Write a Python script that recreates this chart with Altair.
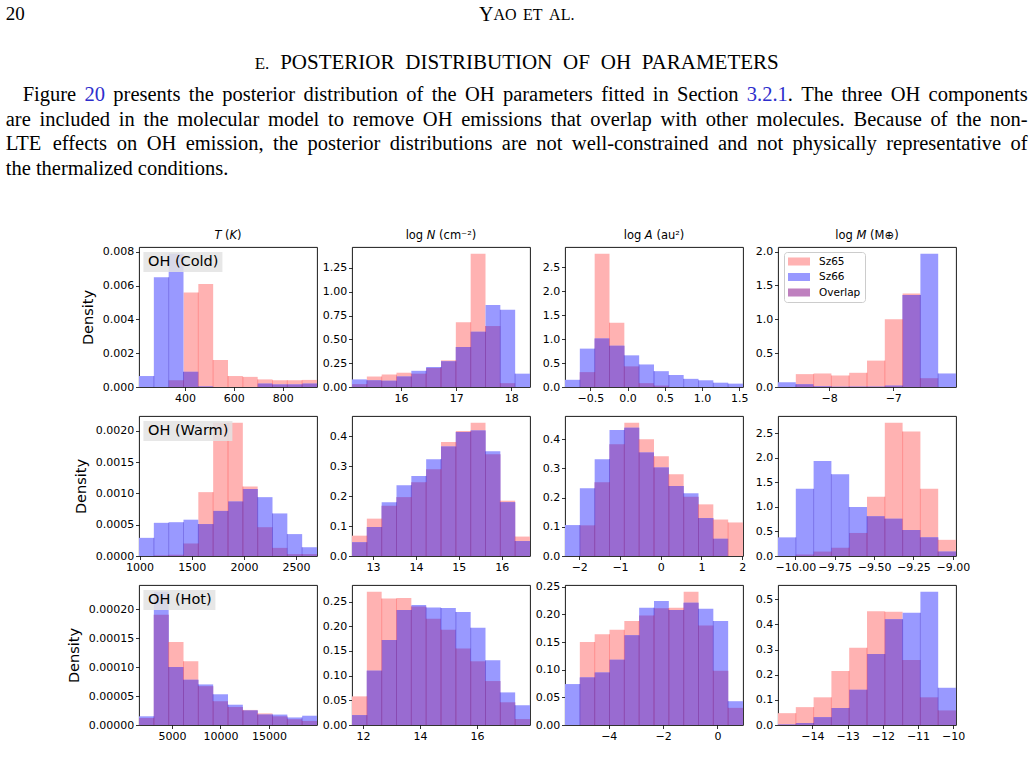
import altair as alt
import pandas as pd

# ---------------- data ----------------
ROW_LABELS = ["OH (Cold)", "OH (Warm)", "OH (Hot)"]
SERIES = ["Sz65", "Sz66", "Overlap"]
SERIES_COLORS = ["#ffb2b2", "#9999ff", "#996bd1"]   # colours of the bars
LEGEND_COLORS = ["#ffb2b2", "#9999ff", "#bf80bf"]   # colours of the legend patches
# column titles as (text, italic) pieces; a lone " " is a space
COL_TITLES = [
    [("T", True), (" ", False), ("(", False), ("K", True), (")", False)],
    [("log", False), (" ", False), ("N", True), (" ", False), ("(cm⁻²)", False)],
    [("log", False), (" ", False), ("A", True), (" ", False), ("(au²)", False)],
    [("log", False), (" ", False), ("M", True), (" ", False), ("(M⊕)", False)],
]

# --- OH (Cold) ---
T_COLD_RANGE = [212, 940]
T_COLD_SZ65 = [0, 0, 0.0004, 0.0056, 0.0061, 0.0016, 0.00065, 0.0006, 0.00045, 0.0004, 0.0004, 0.00042]
T_COLD_SZ66 = [0.00065, 0.0065, 0.0079, 0.0009, 0.00003, 0, 0, 0, 0.0002, 0.00015, 0.00015, 0.0002]
T_COLD_XTICKS = [400, 600, 800]
T_COLD_YTICKS = [0, 0.002, 0.004, 0.006, 0.008]

N_COLD_RANGE = [15.11, 18.34]
N_COLD_SZ65 = [0.03, 0.11, 0.13, 0.15, 0.14, 0.20, 0.28, 0.68, 1.40, 0.64, 0.04, 0.0]
N_COLD_SZ66 = [0.08, 0.07, 0.065, 0.11, 0.17, 0.21, 0.27, 0.42, 0.58, 0.86, 0.81, 0.14]
N_COLD_XTICKS = [16, 17, 18]
N_COLD_YTICKS = [0, 0.25, 0.5, 0.75, 1.0, 1.25]

A_COLD_RANGE = [-0.84, 1.55]
A_COLD_SZ65 = [0, 0.31, 2.78, 1.34, 0.43, 0.08, 0.03, 0, 0, 0, 0, 0]
A_COLD_SZ66 = [0.15, 0.80, 1.01, 0.86, 0.66, 0.47, 0.33, 0.25, 0.17, 0.14, 0.09, 0.07]
A_COLD_XTICKS = [-0.5, 0.0, 0.5, 1.0, 1.5]
A_COLD_YTICKS = [0, 0.5, 1.0, 1.5, 2.0, 2.5]

M_COLD_RANGE = [-8.80, -6.02]
M_COLD_SZ65 = [0, 0.19, 0.20, 0.17, 0.21, 0.39, 1.00, 1.38, 0.13, 0]
M_COLD_SZ66 = [0.07, 0.04, 0.01, 0.005, 0.005, 0.005, 0.02, 1.36, 1.97, 0.20]
M_COLD_XTICKS = [-8, -7]
M_COLD_YTICKS = [0, 0.5, 1.0, 1.5, 2.0]

# --- OH (Warm) ---
T_WARM_RANGE = [995, 2700]
T_WARM_SZ65 = [0, 0.00001, 0.00002, 0.0002, 0.00102, 0.00213, 0.00213, 0.00111, 0.00046, 0.00013, 0.00003, 0.00003]
T_WARM_SZ66 = [0.00029, 0.00053, 0.00054, 0.00058, 0.00051, 0.00072, 0.00087, 0.00107, 0.00094, 0.00068, 0.00035, 0.00014]
T_WARM_XTICKS = [1000, 1500, 2000, 2500]
T_WARM_YTICKS = [0, 0.0005, 0.001, 0.0015, 0.002]

N_WARM_RANGE = [12.51, 16.66]
N_WARM_SZ65 = [0.068, 0.125, 0.168, 0.197, 0.247, 0.29, 0.381, 0.418, 0.446, 0.34, 0.185, 0.065]
N_WARM_SZ66 = [0.046, 0.097, 0.18, 0.237, 0.268, 0.324, 0.366, 0.415, 0.42, 0.35, 0.18, 0.05]
N_WARM_XTICKS = [13, 14, 15, 16]
N_WARM_YTICKS = [0, 0.1, 0.2, 0.3, 0.4]

A_WARM_RANGE = [-2.35, 2.02]
A_WARM_SZ65 = [0, 0.105, 0.253, 0.383, 0.457, 0.40, 0.342, 0.28, 0.203, 0.177, 0.125, 0.115]
A_WARM_SZ66 = [0.106, 0.232, 0.332, 0.432, 0.44, 0.355, 0.303, 0.24, 0.215, 0.13, 0.059, 0.0]
A_WARM_XTICKS = [-2, -1, 0, 1, 2]
A_WARM_YTICKS = [0, 0.1, 0.2, 0.3, 0.4]

M_WARM_RANGE = [-10.11, -8.98]
M_WARM_SZ65 = [0, 0.03, 0.09, 0.17, 0.47, 1.21, 2.72, 2.54, 1.37, 0.33]
M_WARM_SZ66 = [0.38, 1.37, 1.94, 1.67, 1.00, 0.81, 0.76, 0.53, 0.38, 0.09]
M_WARM_XTICKS = [-10, -9.75, -9.5, -9.25, -9.0]
M_WARM_YTICKS = [0, 0.5, 1.0, 1.5, 2.0, 2.5]

# --- OH (Hot) ---
T_HOT_RANGE = [1615, 19938]
T_HOT_SZ65 = [0.000012, 0.00019, 0.000143, 0.00011, 0.000067, 0.000041, 0.000031, 0.000026, 0.00002, 0.000015, 0.00001, 0.000007]
T_HOT_SZ66 = [0.000015, 0.00023, 0.0001, 0.000078, 0.00007, 0.000053, 0.000035, 0.000025, 0.000018, 0.000018, 0.000013, 0.000016]
T_HOT_XTICKS = [5000, 10000, 15000]
T_HOT_YTICKS = [0, 0.00005, 0.0001, 0.00015, 0.0002]

N_HOT_RANGE = [11.61, 17.86]
N_HOT_SZ65 = [0.058, 0.27, 0.256, 0.257, 0.24, 0.215, 0.193, 0.155, 0.129, 0.089, 0.046, 0.012]
N_HOT_SZ66 = [0.02, 0.11, 0.172, 0.233, 0.243, 0.238, 0.237, 0.229, 0.197, 0.131, 0.066, 0.04]
N_HOT_XTICKS = [12, 14, 16]
N_HOT_YTICKS = [0, 0.05, 0.1, 0.15, 0.2, 0.25]

A_HOT_RANGE = [-5.61, 0.94]
A_HOT_SZ65 = [0, 0.15, 0.164, 0.172, 0.188, 0.198, 0.211, 0.212, 0.241, 0.18, 0.098, 0.031]
A_HOT_SZ66 = [0.074, 0.086, 0.095, 0.118, 0.162, 0.212, 0.224, 0.208, 0.221, 0.21, 0.188, 0.043]
A_HOT_XTICKS = [-4, -2, 0]
A_HOT_YTICKS = [0, 0.05, 0.1, 0.15, 0.2, 0.25]

M_HOT_RANGE = [-14.98, -9.92]
M_HOT_SZ65 = [0.047, 0.071, 0.11, 0.215, 0.307, 0.452, 0.45, 0.258, 0.11, 0.058]
M_HOT_SZ66 = [0.002, 0.008, 0.031, 0.068, 0.14, 0.282, 0.42, 0.446, 0.53, 0.148]
M_HOT_XTICKS = [-14, -13, -12, -11, -10]
M_HOT_YTICKS = [0, 0.1, 0.2, 0.3, 0.4, 0.5]

PANELS = [
    [  # row 0: cold
        (T_COLD_RANGE, T_COLD_SZ65, T_COLD_SZ66, T_COLD_XTICKS, "d", T_COLD_YTICKS, ".3f"),
        (N_COLD_RANGE, N_COLD_SZ65, N_COLD_SZ66, N_COLD_XTICKS, "d", N_COLD_YTICKS, ".2f"),
        (A_COLD_RANGE, A_COLD_SZ65, A_COLD_SZ66, A_COLD_XTICKS, ".1f", A_COLD_YTICKS, ".1f"),
        (M_COLD_RANGE, M_COLD_SZ65, M_COLD_SZ66, M_COLD_XTICKS, "d", M_COLD_YTICKS, ".1f"),
    ],
    [  # row 1: warm
        (T_WARM_RANGE, T_WARM_SZ65, T_WARM_SZ66, T_WARM_XTICKS, "d", T_WARM_YTICKS, ".4f"),
        (N_WARM_RANGE, N_WARM_SZ65, N_WARM_SZ66, N_WARM_XTICKS, "d", N_WARM_YTICKS, ".1f"),
        (A_WARM_RANGE, A_WARM_SZ65, A_WARM_SZ66, A_WARM_XTICKS, "d", A_WARM_YTICKS, ".1f"),
        (M_WARM_RANGE, M_WARM_SZ65, M_WARM_SZ66, M_WARM_XTICKS, ".2f", M_WARM_YTICKS, ".1f"),
    ],
    [  # row 2: hot
        (T_HOT_RANGE, T_HOT_SZ65, T_HOT_SZ66, T_HOT_XTICKS, "d", T_HOT_YTICKS, ".5f"),
        (N_HOT_RANGE, N_HOT_SZ65, N_HOT_SZ66, N_HOT_XTICKS, "d", N_HOT_YTICKS, ".2f"),
        (A_HOT_RANGE, A_HOT_SZ65, A_HOT_SZ66, A_HOT_XTICKS, "d", A_HOT_YTICKS, ".2f"),
        (M_HOT_RANGE, M_HOT_SZ65, M_HOT_SZ66, M_HOT_XTICKS, "d", M_HOT_YTICKS, ".1f"),
    ],
]

# ---------------- page text ----------------
HEADER_PAGE = "20"
RUNNING_HEAD = [[("Y", 20), ("AO", 16)], [("ET", 16)], [("AL.", 16)]]
SECTION_WORDS = [("E.", 17), ("POSTERIOR", 21), ("DISTRIBUTION", 21),
                 ("OF", 21), ("OH", 21), ("PARAMETERS", 21)]
SECTION_SPAN = [254, 780]
PARA_LINES = [
    # text, left, right, centre y, justified
    ("Figure 20 presents the posterior distribution of the OH parameters fitted in Section 3.2.1. The three OH components", 22, 1027, 94, True),
    ("are included in the molecular model to remove OH emissions that overlap with other molecules. Because of the non-", 5, 1027, 118.5, True),
    ("LTE effects on OH emission, the posterior distributions are not well-constrained and not physically representative of", 5, 1027, 143, True),
    ("the thermalized conditions.", 5, 1027, 167.5, False),
]
LINK_BLUE = "#2e2ecc"

# ---------------- layout constants ----------------
W, H = 178, 140
OX, OY = 138.3, 245.7  # page position of the first panel's plot origin
SERIF = "Liberation Serif"
SANS = "DejaVu Sans"
LABEL_BOX_W = [79, 89, 72]
PARA_SIZE = 20.5

# Times-metric advance widths (em) of the serif used for the page text
TM = dict(zip("abcdefghijklmnopqrstuvwxyz",
              [.444, .5, .444, .5, .444, .333, .5, .5, .278, .278, .5, .278, .778,
               .5, .5, .5, .5, .333, .389, .278, .5, .5, .722, .5, .5, .444]))
TM.update(dict(zip("ABCDEFGHIJKLMNOPQRSTUVWXYZ",
                   [.722, .667, .667, .722, .611, .556, .722, .722, .333, .389, .722, .611, .889,
                    .722, .722, .556, .722, .667, .556, .611, .722, .722, .944, .722, .722, .611])))
TM.update({".": .25, ",": .25, "-": .333, " ": .25, "0": .5, "1": .5, "2": .5, "3": .5})
# DejaVu Sans advance widths (em) for the column titles
DJ = {"T": .611, "K": .656, " ": .318, "(": .390, ")": .390, "l": .278, "o": .612, "g": .635,
      "N": .748, "c": .550, "m": .974, "⁻": .536, "²": .401, "A": .684, "a": .613, "u": .634,
      "M": .863, "⊕": .838}


def tw(text, size):
    return sum(TM.get(ch, .5) for ch in text) * size


def text_mark(text, x, y, align, size, color="black", font=SERIF, style="normal"):
    return alt.Chart(pd.DataFrame({"t": [text]})).mark_text(
        align=align, baseline="middle", font=font, fontSize=size, color=color, fontStyle=style
    ).encode(x=alt.value(x), y=alt.value(y), text="t:N")


def page_text(text, px, py, align, size, color="black"):
    return text_mark(text, px - OX, py - OY, align, size, color)


def header_layers():
    out = [page_text(HEADER_PAGE, 5, 13, "left", 19)]
    # running head in small capitals, centred near x = 526
    gap = 6.5
    wws = [sum(tw(t, s) for t, s in word) for word in RUNNING_HEAD]
    x = 526 - (sum(wws) + gap * (len(wws) - 1)) / 2
    for word, ww in zip(RUNNING_HEAD, wws):
        xx = x
        for t, s in word:
            out.append(page_text(t, xx, 14 if s < 20 else 13.2, "left", s))
            xx += tw(t, s)
        x += ww + gap
    # section heading, words spread evenly over the heading's span
    sws = [tw(t, s) for t, s in SECTION_WORDS]
    sgap = (SECTION_SPAN[1] - SECTION_SPAN[0] - sum(sws)) / (len(sws) - 1)
    x = SECTION_SPAN[0]
    for (t, s), sw in zip(SECTION_WORDS, sws):
        out.append(page_text(t, x, 61.5 if s > 20 else 62.4, "left", s))
        x += sw + sgap
    # justified paragraph
    for text, left, right, cy, just in PARA_LINES:
        words = text.split(" ")
        ws = [tw(w, PARA_SIZE) for w in words]
        gap = (right - left - sum(ws)) / (len(words) - 1) if just else 0.25 * PARA_SIZE
        x = left
        for w, wd in zip(words, ws):
            if w == "20":
                out.append(page_text(w, x, cy, "left", PARA_SIZE, LINK_BLUE))
            elif w == "3.2.1.":
                out.append(page_text("3.2.1", x, cy, "left", PARA_SIZE, LINK_BLUE))
                out.append(page_text(".", x + tw("3.2.1", PARA_SIZE), cy, "left", PARA_SIZE))
            else:
                out.append(page_text(w, x, cy, "left", PARA_SIZE))
            x += wd + gap
    return out


def title_layers(c, size=11.5):
    segs = COL_TITLES[c]
    widths = [sum(DJ.get(ch, .6) for ch in t) * size for t, _ in segs]
    x = W / 2 - sum(widths) / 2
    out = []
    for (t, it), wd in zip(segs, widths):
        if t.strip():
            out.append(text_mark(t, x, -11.5, "left", size, font=SANS,
                                 style="italic" if it else "normal"))
        x += wd
    return out


def make_panel(r, c):
    rng, red, blue, xt, xf, yt, yf = PANELS[r][c]
    lo, hi = rng
    n = len(red)
    w = (hi - lo) / n
    rows = []
    for i in range(n):
        x0 = lo + i * w
        x1 = x0 + w
        vals = [red[i], blue[i], min(red[i], blue[i])]
        for k in range(3):
            rows.append({"x0": x0, "x1": x1, "val": vals[k], "base": 0.0,
                         "series": SERIES[k], "ord": k})
    df = pd.DataFrame(rows)

    seam_rows = []
    for i in range(n - 1):
        xe = lo + (i + 1) * w
        for k, arr in enumerate([red, blue]):
            t = min(arr[i], arr[i + 1])
            if t > 0:
                seam_rows.append({"xe": xe, "top": t, "base": 0.0, "series": SERIES[k]})
    sdf = pd.DataFrame(seam_rows)

    ymax = max(max(red), max(blue)) * 1.05
    xs = alt.Scale(domain=[lo, hi], nice=False, zero=False)
    ys = alt.Scale(domain=[0, ymax], nice=False, zero=False)

    bars = alt.Chart(df).mark_rect().encode(
        x=alt.X("x0:Q", scale=xs, axis=alt.Axis(values=xt, format=xf, title=None, tickCount=30,
                                                labelFlush=False, labelOverlap=False)),
        x2="x1:Q",
        y=alt.Y("val:Q", scale=ys, axis=alt.Axis(values=yt, format=yf, tickCount=30,
                                                 title="Density" if c == 0 else None,
                                                 labelOverlap=False)),
        y2="base:Q",
        fill=alt.Fill("series:N", scale=alt.Scale(domain=SERIES, range=SERIES_COLORS), legend=None),
        order=alt.Order("ord:Q"),
    )
    seams = alt.Chart(sdf).mark_rule(strokeWidth=1, opacity=0.45).encode(
        x="xe:Q", y="top:Q", y2="base:Q",
        stroke=alt.Stroke("series:N", scale=alt.Scale(domain=["Sz65", "Sz66"],
                                                      range=["#ff4d4d", "#3a2ad0"]), legend=None),
    )
    layers = [bars, seams]
    if c == 0:
        lab_df = pd.DataFrame({"t": [ROW_LABELS[r]]})
        box = alt.Chart(lab_df).mark_rect(fill="#e3e3e3", opacity=0.85).encode(
            x=alt.value(4.4), x2=alt.value(4.4 + LABEL_BOX_W[r]), y=alt.value(5), y2=alt.value(25))
        lab = alt.Chart(lab_df).mark_text(align="left", baseline="middle", font=SANS,
                                          fontSize=14.5, color="black").encode(
            x=alt.value(9), y=alt.value(15), text="t:N")
        layers += [box, lab]
    if r == 0 and c == 3:
        # legend patches only (zero-size marks carry the legend)
        ldf = pd.DataFrame({"series": SERIES, "x0": [lo] * 3, "v": [0.0] * 3})
        legend_layer = alt.Chart(ldf).mark_rect().encode(
            x="x0:Q", x2="x0:Q", y="v:Q", y2="v:Q",
            color=alt.Color("series:N", scale=alt.Scale(domain=SERIES, range=LEGEND_COLORS),
                            legend=alt.Legend(
                                title=None, orient="none", legendX=6, legendY=5,
                                symbolType="M-2,-0.73H2V0.73H-2Z", symbolSize=121, symbolOffset=5.5,
                                symbolStrokeWidth=0, symbolOpacity=1, labelFont=SANS, labelFontSize=10.5,
                                labelColor="black", labelOffset=14.5, rowPadding=4.5, padding=4,
                                strokeColor="#cccccc", fillColor="rgba(255,255,255,0.8)", cornerRadius=3,
                            )),
        )
        layers.append(legend_layer)
    if r == 0:
        layers += title_layers(c)
    if r == 0 and c == 0:
        layers += header_layers()

    return alt.layer(*layers).properties(width=W, height=H)


panels = [make_panel(r, c) for r in range(3) for c in range(4)]

chart = alt.concat(
    *panels, columns=4, spacing={"row": 29, "column": 35}, bounds="flush"
).resolve_scale(color="independent").properties(
    padding={"left": 5, "top": 4, "right": 3, "bottom": 5}
).configure_view(
    stroke="black", strokeWidth=0.9
).configure_axis(
    labelFont=SANS, labelFontSize=11, labelColor="black", tickColor="black",
    tickSize=3.5, tickWidth=0.8, domain=False, grid=False,
    titleFont=SANS, titleFontSize=14.5, titleFontWeight="normal", titleColor="black",
    titlePadding=6.5, labelPadding=1.7,
).configure_axisX(labelPadding=1.5)

chart.save("out.html", embed_options={"renderer": "svg", "actions": False})
